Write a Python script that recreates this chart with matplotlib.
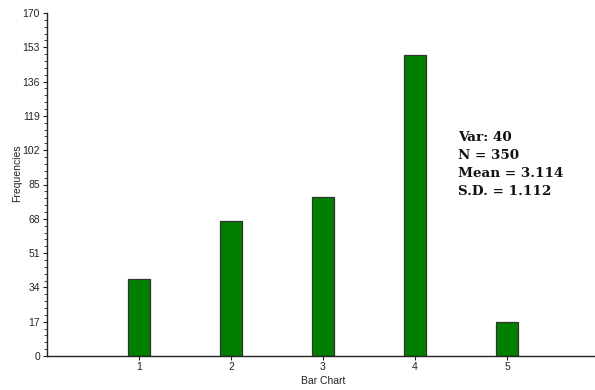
import matplotlib
matplotlib.use("Agg")
import matplotlib.pyplot as plt
from matplotlib.ticker import AutoMinorLocator

categories = [1, 2, 3, 4, 5]
frequencies = [38, 67, 79, 149, 17]
y_ticks = [0, 17, 34, 51, 68, 85, 102, 119, 136, 153, 170]
stats_lines = ["Var: 40", "N = 350", "Mean = 3.114", "S.D. = 1.112"]

fig = plt.figure(figsize=(5.95, 3.9), dpi=100)
ax = fig.add_axes([47 / 595, 34 / 390, 552 / 595, 343 / 390])

ax.bar(categories, frequencies, width=0.24, color="#007f00",
       edgecolor="#333333", linewidth=0.9, zorder=2)

ax.set_xlim(0, 6)
ax.set_ylim(0, 170)
ax.set_xticks(categories)
ax.set_yticks(y_ticks)
ax.yaxis.set_minor_locator(AutoMinorLocator(5))

for s in ("top", "right"):
    ax.spines[s].set_visible(False)
for s in ("left", "bottom"):
    ax.spines[s].set_color("#222222")
    ax.spines[s].set_linewidth(1.0)

ax.tick_params(axis="both", which="major", length=3, width=0.8,
               color="#222222", labelsize=7.5, pad=2)
ax.tick_params(axis="x", which="major", pad=1)
ax.tick_params(axis="y", which="minor", length=2, width=0.6, color="#222222")
for lbl in ax.get_xticklabels() + ax.get_yticklabels():
    lbl.set_fontfamily("Liberation Sans")
    lbl.set_color("#222222")

ax.set_xlabel("Bar Chart", fontfamily="Liberation Sans", fontsize=7.5,
              color="#222222")
ax.set_ylabel("Frequencies", fontfamily="Liberation Sans", fontsize=7.5,
              color="#222222")
ax.xaxis.set_label_coords(0.5, -0.058)
ax.yaxis.set_label_coords(-0.045, 0.534)

ax.text(4.47, 111.5, "\n".join(stats_lines), ha="left", va="top",
        fontfamily="DejaVu Serif", fontweight="bold", fontsize=9.7,
        linespacing=1.5, color="#111111")

fig.savefig("out.png", dpi=100)
